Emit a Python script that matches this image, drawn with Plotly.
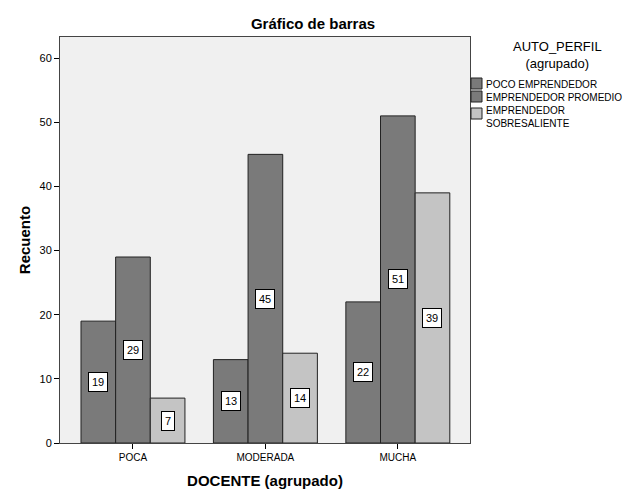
import plotly.graph_objects as go

categories = ["POCA", "MODERADA", "MUCHA"]
series_names = ["POCO EMPRENDEDOR", "EMPRENDEDOR PROMEDIO", "EMPRENDEDOR<br>SOBRESALIENTE"]
poco = [19, 13, 22]
promedio = [29, 45, 51]
sobresaliente = [7, 14, 39]
series_values = [poco, promedio, sobresaliente]
colors = ["#7a7a7a", "#7a7a7a", "#c4c4c4"]
yticks = [0, 10, 20, 30, 40, 50, 60]

W, H = 629, 504
L, R, T, B = 60, 159, 37, 61
PW, PH = W - L - R, H - T - B


def px_x(p):
    return (p - L) / PW


def px_y(p):
    return (H - B - p) / PH


bargap = 0.215
n = len(series_values)
bw = (1 - bargap) / n
xs = list(range(len(categories)))

fig = go.Figure()
for s, (name, vals, col) in enumerate(zip(series_names, series_values, colors)):
    fig.add_trace(go.Bar(
        x=xs, y=vals, name=name,
        marker=dict(color=col, line=dict(color="#222222", width=1)),
        hoverinfo="y",
    ))
    off = (s - (n - 1) / 2) * bw
    for i, v in enumerate(vals):
        fig.add_annotation(
            x=i + off, y=v / 2, text=str(v), showarrow=False,
            bgcolor="white", bordercolor="black", borderwidth=1, borderpad=3,
            font=dict(family="Liberation Sans, Arial", size=11, color="black"),
        )

# manual legend
fig.add_annotation(
    x=px_x(557), y=px_y(55), xref="paper", yref="paper",
    text="AUTO_PERFIL<br>(agrupado)", showarrow=False, xanchor="center", yanchor="middle",
    font=dict(size=13, color="black"),
)
sw = [(78, 89), (91, 102), (108, 119)]
ty = [84, 97, 117]
for s, (name, col) in enumerate(zip(series_names, colors)):
    y0, y1 = sw[s]
    fig.add_shape(
        type="rect", xref="paper", yref="paper",
        x0=px_x(471), x1=px_x(482), y0=px_y(y1), y1=px_y(y0),
        fillcolor=col, line=dict(color="#222222", width=1),
    )
    fig.add_annotation(
        x=px_x(484), y=px_y(ty[s]), xref="paper", yref="paper",
        text=name, showarrow=False, xanchor="left", yanchor="middle", align="left",
        font=dict(size=10, color="black"),
    )

fig.update_layout(
    width=W, height=H,
    barmode="group", bargap=bargap, bargroupgap=0,
    paper_bgcolor="white", plot_bgcolor="#f0f0f0",
    margin=dict(l=L, r=R, t=T, b=B, autoexpand=False),
    font=dict(family="Liberation Sans, Arial", size=11, color="black"),
    title=dict(text="<b>Gráfico de barras</b>", x=313 / W, xanchor="center",
               y=1 - 24 / H, yanchor="middle", font=dict(size=15)),
    showlegend=False,
)
fig.update_xaxes(
    tickmode="array", tickvals=xs, ticktext=categories,
    range=[-0.551, 2.545], ticks="outside", ticklen=5, tickcolor="black",
    showline=True, linecolor="#444444", mirror=True, showgrid=False, zeroline=False,
    title=dict(text="<b>DOCENTE (agrupado)</b>", font=dict(size=15), standoff=13),
    tickfont=dict(size=10),
)
fig.update_yaxes(
    tickvals=yticks, range=[0, 63.3], ticks="outside", ticklen=5, tickcolor="black",
    showline=True, linecolor="#444444", mirror=True, showgrid=False, zeroline=False,
    title=dict(text="<b>Recuento</b>", font=dict(size=15), standoff=5),
    tickfont=dict(size=11),
)

fig.write_html(
    "out.html",
    config={"displayModeBar": False},
    post_script="document.body.style.margin='0';document.body.style.overflow='hidden';",
)
